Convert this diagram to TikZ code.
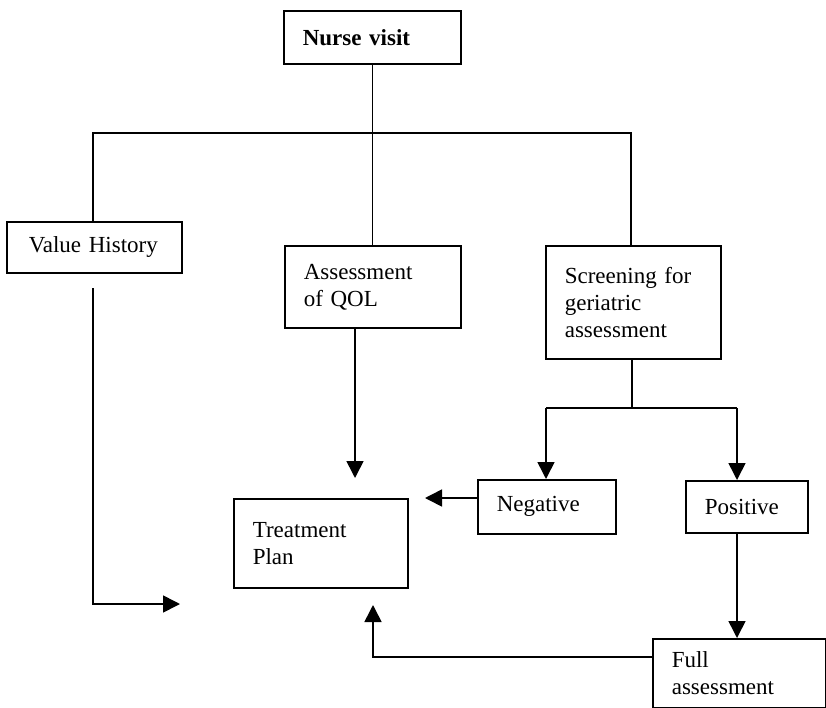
\documentclass[tikz,border=0pt]{standalone}
\usepackage{fontspec}
\setmainfont{Liberation Serif}
\usetikzlibrary{arrows.meta}

\tikzset{
  box/.style={draw, line width=1.6pt, rectangle, anchor=north west,
    inner xsep=19pt, inner ysep=0pt, align=left,
    font=\fontsize{23}{27}\selectfont},
  link/.style={line width=1.6pt},
  thinlink/.style={line width=1.2pt},
  arr/.style={link, -{Triangle[length=17pt,width=17pt]}}
}

% box name, left, top, width, height, text
\newcommand{\flowbox}[6]{%
  \node[box, text width=#4pt-38pt, minimum height=#5pt] (#1) at (#2,#3) {#6};}

\begin{document}
\begin{tikzpicture}[x=1pt,y=-1pt]
  \useasboundingbox (0,0) rectangle (826,708);

  % boxes
  \flowbox{nurse}{283}{10}{177}{53}{\textbf{Nurse visit}}
  \flowbox{vh}{6}{221}{175}{51}{\hspace*{3pt}Value History}
  \flowbox{qol}{284}{245}{176}{82}{Assessment\\of QOL}
  \flowbox{scr}{545}{245}{175}{113}{Screening for\\geriatric\\assessment}
  \flowbox{neg}{477}{479}{138}{54}{Negative}
  \flowbox{pos}{685}{480}{122}{52}{Positive}
  \flowbox{treat}{233}{498}{174}{89}{Treatment\\Plan}
  \flowbox{full}{652}{638}{173}{69}{Full\\assessment}

  % free ends and junctions
  \coordinate (barL) at (93,133);
  \coordinate (barR) at (631,133);
  \coordinate (split) at (632,408);
  \coordinate (splitL) at (546,408);
  \coordinate (splitR) at (737,408);
  \coordinate (qolTip) at (355,478);
  \coordinate (negTip) at (425,498);
  \coordinate (vhStart) at (93,288);
  \coordinate (vhTip) at (180,604);
  \coordinate (fullOut) at (652,657);
  \coordinate (upTip) at (373,605);

  % top distribution
  \draw[thinlink] (nurse.south) -- (nurse.south |- qol.north);
  \draw[link] (vh.north -| barL) -- (barL) -- (barR) -- (scr.north -| barR);

  % assessment of QOL to plan
  \draw[arr] (qol.south -| qolTip) -- (qolTip);

  % screening split
  \draw[link] (scr.south -| split) -- (split);
  \draw[link] (splitL) -- (splitR);
  \draw[arr] (splitL) -- (neg.north -| splitL);
  \draw[arr] (splitR) -- (pos.north -| splitR);

  % negative to plan
  \draw[arr] (neg.west |- negTip) -- (negTip);

  % value history to plan
  \draw[arr] (vhStart) |- (vhTip);

  % positive to full assessment
  \draw[arr] (pos.south -| splitR) -- (full.north -| splitR);

  % full assessment back to plan
  \draw[arr] (fullOut) -| (upTip);
\end{tikzpicture}
\end{document}
